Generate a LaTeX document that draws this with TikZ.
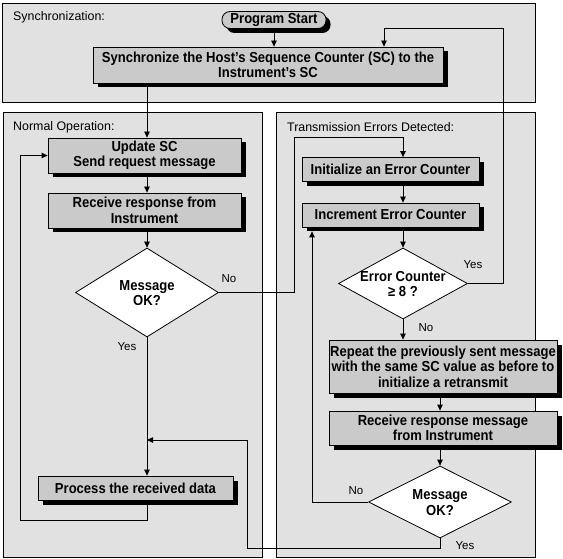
\documentclass[tikz,border=0pt]{standalone}
\usepackage{fontspec}
\setmainfont{Liberation Sans}
\newfontfamily\boxfont{Liberation Sans}[FakeStretch=0.9]
\usetikzlibrary{arrows.meta,shadows,shapes.geometric,calc}

\definecolor{panelgray}{HTML}{E1E1E1}
\definecolor{boxgray}{HTML}{CACACA}

% text of a decision node: centred, but taking no room, so the diamond
% keeps exactly its minimum width and height
\newcommand\dtext[1]{\makebox[0pt]{\smash{\raisebox{-.5\height}{%
  \begin{tabular}[b]{@{}c@{}}#1\end{tabular}}}}}

\tikzset{
  panel/.style={draw=black, fill=panelgray, line width=0.9pt},
  paneltitle/.style={anchor=west, inner sep=0pt, font=\fontsize{12.4}{14}\selectfont},
  lbl/.style={inner sep=0pt, font=\fontsize{11.5}{13}\selectfont},
  boxtext/.style={font=\boxfont\bfseries\fontsize{14.5}{15.5}\selectfont},
  stepbox/.style={boxtext, draw=black, fill=boxgray, line width=0.8pt,
    align=center, inner sep=0pt,
    drop shadow={shadow xshift=4.5pt, shadow yshift=-4.5pt, fill=black, opacity=1}},
  startbox/.style={stepbox, rounded corners=8pt},
  decision/.style={boxtext, shape=diamond, draw=black, fill=white,
    line width=0.8pt, inner sep=0pt},
  conn/.style={line width=0.8pt},
  arr/.style={conn, -{Triangle[length=6pt,width=5.5pt]}},
}

\begin{document}
\begin{tikzpicture}[x=1pt, y=-1pt]
  \useasboundingbox (0,0) rectangle (563,559);
  \fill[white] (0,0) rectangle (563,559);

  % the three regions
  \draw[panel] (2.5,3) rectangle (535,102);
  \draw[panel] (3,112) rectangle (262,557);
  \draw[panel] (276,112) rectangle (535,557);
  \node[paneltitle] (tsync) at (13,17) {Synchronization:};
  \node[paneltitle] (tnorm) at (13,127) {Normal Operation:};
  \node[paneltitle] (terr) at (287,127) {Transmission Errors Detected:};

  % columns used by the connectors
  \coordinate (cL) at (147,0);
  \coordinate (cR) at (403,0);
  \coordinate (cR2) at (440,0);
  \coordinate (xYes) at (384,0);
  \coordinate (xNo) at (312,0);
  \coordinate (merge) at (147,440);

  % synchronization
  \node[startbox, minimum width=104, minimum height=17] (start) at (274,20) {Program Start};
  \node[stepbox, minimum width=350, minimum height=36] (sync) at (268,65)
    {Synchronize the Host’s Sequence Counter (SC) to the\\Instrument’s SC};

  % normal operation
  \node[stepbox, minimum width=193, minimum height=35] (upd) at (144.5,155.5)
    {Update SC\\Send request message};
  \node[stepbox, minimum width=193, minimum height=35] (recv) at (144.5,210.5)
    {Receive response from\\Instrument};
  \node[decision, minimum width=143, minimum height=89] (d1) at (147,292.5)
    {\dtext{Message\\OK?}};
  \node[stepbox, minimum width=195, minimum height=24] (proc) at (135.5,488)
    {Process the received data};

  % transmission errors
  \node[stepbox, minimum width=177, minimum height=24] (init) at (390.5,169.5)
    {Initialize an Error Counter};
  \node[stepbox, minimum width=177, minimum height=24] (incr) at (390.5,215)
    {Increment Error Counter};
  \node[decision, minimum width=129, minimum height=71] (d2) at (403,283.5)
    {\dtext{Error Counter\\≥ 8 ?}};
  \node[stepbox, minimum width=228, minimum height=53] (rep) at (443,366.5)
    {Repeat the previously sent message\\with the same SC value as before to\\initialize a retransmit};
  \node[stepbox, minimum width=228, minimum height=34] (recv2) at (443,428)
    {Receive response message\\from Instrument};
  \node[decision, minimum width=143, minimum height=72] (d3) at (440,502)
    {\dtext{Message\\OK?}};

  % flow of the normal operation
  \draw[arr] (start.south) -- (start.south |- sync.north);
  \draw[arr] (sync.south -| cL) -- (upd.north -| cL);
  \draw[arr] (upd.south -| cL) -- (recv.north -| cL);
  \draw[arr] (recv.south -| cL) -- (d1.north);
  \draw[arr] (d1.south) -- (proc.north -| cL);
  \draw[arr] (proc.south -| cL) -- ++(0,20) -| ($(upd.west)+(-27,0)$) -- (upd.west);
  \draw[arr] (d1.east) -- ($(d1.east)+(75,0)$) |- ($(init.north -| cR)+(0,-20)$)
    -- (init.north -| cR);

  % flow of the error handling
  \draw[arr] (init.south -| cR) -- (incr.north -| cR);
  \draw[arr] (incr.south -| cR) -- (d2.north);
  \draw[arr] (d2.south) -- (rep.north -| cR);
  \draw[arr] (d2.east) -- ($(d2.east)+(35,0)$) |- ($(sync.north -| xYes)+(0,-18)$)
    -- (sync.north -| xYes);
  \draw[arr] (rep.south -| cR2) -- (recv2.north -| cR2);
  \draw[arr] (recv2.south -| cR2) -- (d3.north);
  \draw[arr] (d3.west) -| ($(incr.south -| xNo)+(0,4)$);
  \draw[arr] (d3.south) -- ++(0,10) -| ($(merge)+(100,0)$) -- (merge);

  % branch labels
  \node[lbl] (n1) at (229,279) {No};
  \node[lbl] (y1) at (127,347) {Yes};
  \node[lbl] (y2) at (473,265) {Yes};
  \node[lbl] (n2) at (426,328) {No};
  \node[lbl] (n3) at (356,491) {No};
  \node[lbl] (y3) at (465,546) {Yes};
\end{tikzpicture}
\end{document}
